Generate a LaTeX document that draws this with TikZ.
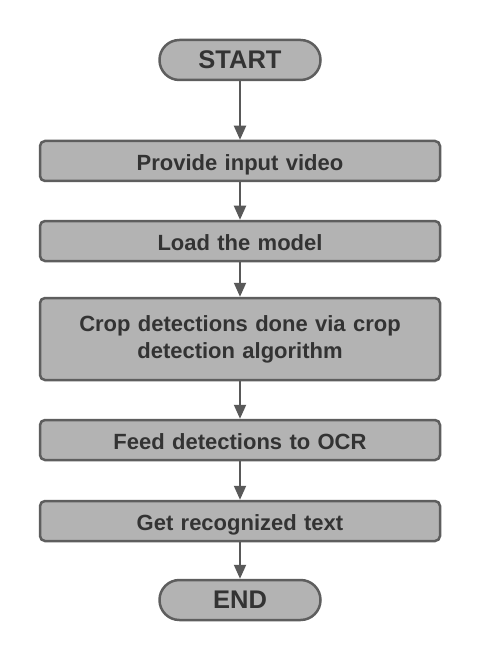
\documentclass[tikz,border=0pt]{standalone}
\usepackage{fontspec}
\setmainfont{Liberation Sans}
\usetikzlibrary{arrows.meta}
\definecolor{boxfill}{HTML}{B3B3B3}
\definecolor{boxdraw}{HTML}{5E5E5E}
\definecolor{txt}{HTML}{333333}
\definecolor{arr}{HTML}{595959}
\tikzset{
  procbox/.style={draw=boxdraw, fill=boxfill, line width=2.5pt, rounded corners=5pt,
    minimum width=400pt, text width=390pt, align=center, inner sep=0pt,
    font=\fontsize{22}{27}\selectfont\bfseries, text=txt},
  oneline/.style={minimum height=40pt, text height=19.4pt, text depth=0pt},
  termbox/.style={draw=boxdraw, fill=boxfill, line width=2.5pt, rounded corners=19.9pt,
    minimum width=161pt, minimum height=40pt, inner sep=0pt,
    font=\fontsize{25.5}{30}\selectfont\bfseries, text=txt},
  flow/.style={draw=arr, line width=2pt, -{Triangle[length=14pt,width=12pt]}}
}
\begin{document}
\begin{tikzpicture}[x=1pt,y=-1pt]
\fill[white] (0,0) rectangle (480,660);
\useasboundingbox (0,0) rectangle (480,660);
\node[termbox] (start) at (240,60) {START};
\node[procbox, oneline] (b1) at (240,161) {Provide input video};
\node[procbox, oneline] (b2) at (240,241) {Load the model};
\node[procbox, minimum height=82pt] (b3) at (240,339) {Crop detections done via crop\\detection algorithm};
\node[procbox, oneline] (b4) at (240,440) {Feed detections to OCR};
\node[procbox, oneline] (b5) at (240,521) {Get recognized text};
\node[termbox] (end) at (240,600) {END};
\draw[flow] (start) -- (b1);
\draw[flow] (b1) -- (b2);
\draw[flow] (b2) -- (b3);
\draw[flow] (b3) -- (b4);
\draw[flow] (b4) -- (b5);
\draw[flow] (b5) -- (end);
\end{tikzpicture}
\end{document}
